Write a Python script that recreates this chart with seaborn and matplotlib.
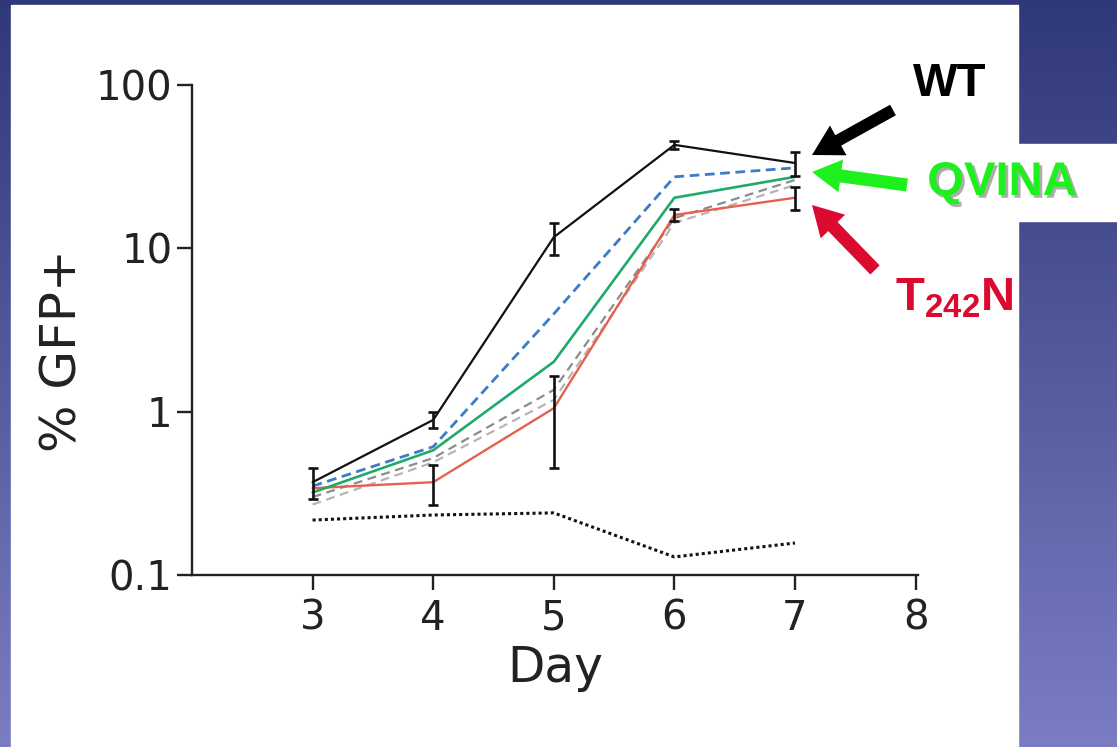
import numpy as np
import matplotlib
matplotlib.use('Agg')
import matplotlib.pyplot as plt
import matplotlib.patheffects as pe
from matplotlib.patches import Rectangle, FancyArrow
from matplotlib.ticker import NullLocator
import seaborn as sns

# ─── Data (% GFP+ per day) ───────────────────────────────────────────────────
DAYS = [3, 4, 5, 6, 7]

WT        = [0.37, 0.89, 11.7, 43.0, 33.3]
WT_ERR    = [0.08, 0.10, 2.6, 2.5, 5.5]
BLUE      = [0.35, 0.61, 3.97, 27.4, 31.1]
QVINA     = [0.32, 0.58, 2.02, 20.4, 27.4]
T242N     = [0.34, 0.37, 1.05, 16.0, 20.4]
T242N_ERR = [np.nan, 0.10, 0.6, 1.4, 3.3]
GRAY_A    = [0.30, 0.52, 1.36, 15.3, 26.2]
GRAY_B    = [0.27, 0.49, 1.18, 14.3, 24.4]
MOCK      = [0.217, 0.233, 0.240, 0.129, 0.157]

X_TICKS       = [3, 4, 5, 6, 7, 8]
Y_TICKS       = [0.1, 1, 10, 100]
Y_TICK_LABELS = ['0.1', '1', '10', '100']

# ─── Style ───────────────────────────────────────────────────────────────────
sns.set_style('ticks')
plt.rcParams['font.family'] = ['DejaVu Sans']
plt.rcParams['mathtext.fontset'] = 'custom'
plt.rcParams['mathtext.bf'] = 'Liberation Sans:bold'
plt.rcParams['mathtext.rm'] = 'Liberation Sans'

W, H = 1117, 747
fig = plt.figure(figsize=(W / 100, H / 100), dpi=100)

# ─── Slide background (pixel coords, y down) ─────────────────────────────────
bg = fig.add_axes([0, 0, 1, 1], zorder=0)
top = np.array([0x2f, 0x38, 0x78]) / 255
bot = np.array([0x7b, 0x7d, 0xc4]) / 255
t = np.linspace(0, 1, 256)[:, None]
grad = top + (bot - top) * t
bg.imshow(grad[:, None, :], extent=[0, W, H, 0], aspect='auto')
bg.set_xlim(0, W)
bg.set_ylim(H, 0)
bg.axis('off')

bg.add_patch(Rectangle((11, 5), 1007, 742, color='white'))
bg.add_patch(Rectangle((1018, 144), 99, 77, color='white'))

# arrows + labels
RED = '#dc0a2e'
GREEN = '#1ef01e'
bg.add_patch(FancyArrow(893, 110, -81, 45, width=12, head_width=34, head_length=30,
                        length_includes_head=True, color='black', lw=0))
bg.add_patch(FancyArrow(907, 185, -95, -13, width=13, head_width=33, head_length=29,
                        length_includes_head=True, color=GREEN, lw=0))
bg.add_patch(FancyArrow(875, 270, -63, -65, width=13, head_width=34, head_length=30,
                        length_includes_head=True, color=RED, lw=0))

bg.text(950, 84, 'WT', ha='center', va='center', fontsize=34,
        fontweight='bold', family='Liberation Sans', color='black')
bg.text(1002, 183, 'QVINA', ha='center', va='center', fontsize=34,
        fontweight='bold', family='Liberation Sans', color=GREEN,
        path_effects=[pe.SimplePatchShadow(offset=(2, -2), shadow_rgbFace='#999999', alpha=0.8),
                      pe.Normal()])
bg.text(895, 310, r'$\mathbf{T_{242}N}$', ha='left', va='baseline',
        fontsize=34, color=RED)

# ─── Main plot ───────────────────────────────────────────────────────────────
ax = fig.add_axes([192 / W, (H - 575) / H, (918 - 192) / W, 490 / H], zorder=2)
ax.patch.set_alpha(0)
ax.set_yscale('log')

sns.lineplot(x=DAYS, y=MOCK, ax=ax, color='#111111', lw=2.2, linestyle=(0, (1, 1)))
sns.lineplot(x=DAYS, y=GRAY_B, ax=ax, color='#b5b5b5', lw=1.6, linestyle=(0, (4, 2.5)))
sns.lineplot(x=DAYS, y=GRAY_A, ax=ax, color='#8c8c8c', lw=1.6, linestyle=(0, (4, 2.5)))
sns.lineplot(x=DAYS, y=T242N, ax=ax, color='#e5614f', lw=1.7)
sns.lineplot(x=DAYS, y=QVINA, ax=ax, color='#1faa6a', lw=1.9)
sns.lineplot(x=DAYS, y=BLUE, ax=ax, color='#3a7cc6', lw=2.0, linestyle=(0, (3.5, 2)))
sns.lineplot(x=DAYS, y=WT, ax=ax, color='#111111', lw=1.6)

ax.errorbar(DAYS, WT, yerr=WT_ERR, fmt='none', ecolor='#111111',
            elinewidth=1.9, capsize=3.5, capthick=1.9)
ax.errorbar(DAYS, T242N, yerr=T242N_ERR, fmt='none', ecolor='#111111',
            elinewidth=1.9, capsize=3.5, capthick=1.9)

ax.set_xlim(2, 8.02)
ax.set_ylim(0.1, 100)
ax.set_xticks(X_TICKS)
ax.set_yticks(Y_TICKS, labels=Y_TICK_LABELS)
ax.yaxis.set_minor_locator(NullLocator())

sns.despine(ax=ax)
for s in ['left', 'bottom']:
    ax.spines[s].set_linewidth(1.7)
    ax.spines[s].set_color('#222222')
ax.tick_params(axis='both', length=11, width=1.7, color='#222222',
               labelsize=29, labelcolor='#222222')
ax.tick_params(axis='x', pad=6)
ax.tick_params(axis='y', pad=3)

ax.set_xlabel('Day', fontsize=35, color='#222222', va='center')
ax.xaxis.set_label_coords(0.5, -0.19)
ax.set_ylabel('% GFP+', fontsize=36, color='#222222', va='center')
ax.yaxis.set_label_coords(-0.178, 0.457)

fig.savefig('out.png', dpi=100)
